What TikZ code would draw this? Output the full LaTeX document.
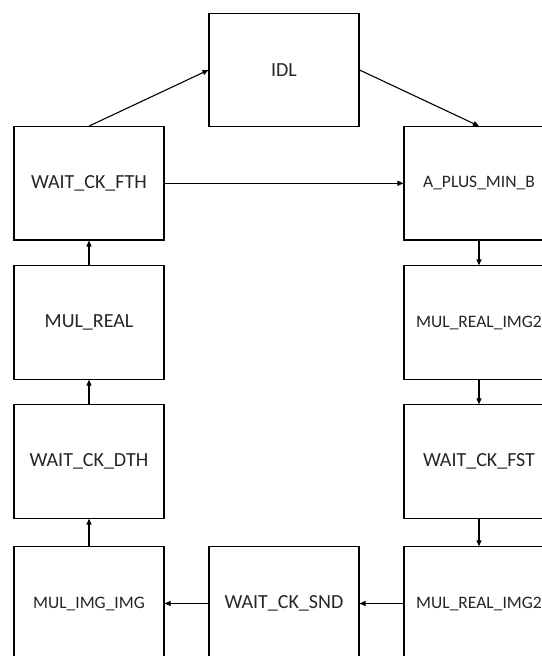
\documentclass[tikz,border=0pt]{standalone}
\usepackage{fontspec}
\setmainfont{Carlito}
\usetikzlibrary{arrows.meta}
\begin{document}
\begin{tikzpicture}[x=1bp,y=-1bp,
  state/.style={draw=black, line width=1.1bp, minimum width=150bp, minimum height=113.3bp, inner sep=0pt, font=\fontsize{20bp}{24bp}\selectfont, text=black!85},
  small/.style={font=\fontsize{17.5bp}{21bp}\selectfont},
  conn/.style={line width=1.1bp, -{Triangle[length=6bp,width=5bp]}}]
\useasboundingbox (0,0) rectangle (542,656);
\clip (0,0) rectangle (542,656);
\fill[white] (0,0) rectangle (542,656);
\node[state] (idl) at (284,70) {IDL};
\node[state] (fth) at (89,183.3) {WAIT\_CK\_FTH};
\node[state,small] (apm) at (479,183.3) {A\_PLUS\_MIN\_B};
\node[state] (mr) at (89,322.5) {MUL\_REAL};
\node[state,small] (mri1) at (479,322.5) {MUL\_REAL\_IMG2};
\node[state] (dth) at (89,461.5) {WAIT\_CK\_DTH};
\node[state] (fst) at (479,461.5) {WAIT\_CK\_FST};
\node[state,small] (mii) at (89,603.5) {MUL\_IMG\_IMG};
\node[state] (snd) at (284,603.5) {WAIT\_CK\_SND};
\node[state,small] (mri2) at (479,603.5) {MUL\_REAL\_IMG2};
\draw[conn] (fth.north) -- (idl.west);
\draw[conn] (idl.east) -- (apm.north);
\draw[conn] (fth.east) -- (apm.west);
\draw[conn] (apm.south) -- (mri1.north);
\draw[conn] (mri1.south) -- (fst.north);
\draw[conn] (fst.south) -- (mri2.north);
\draw[conn] (mri2.west) -- (snd.east);
\draw[conn] (snd.west) -- (mii.east);
\draw[conn] (mii.north) -- (dth.south);
\draw[conn] (dth.north) -- (mr.south);
\draw[conn] (mr.north) -- (fth.south);
\end{tikzpicture}
\end{document}
